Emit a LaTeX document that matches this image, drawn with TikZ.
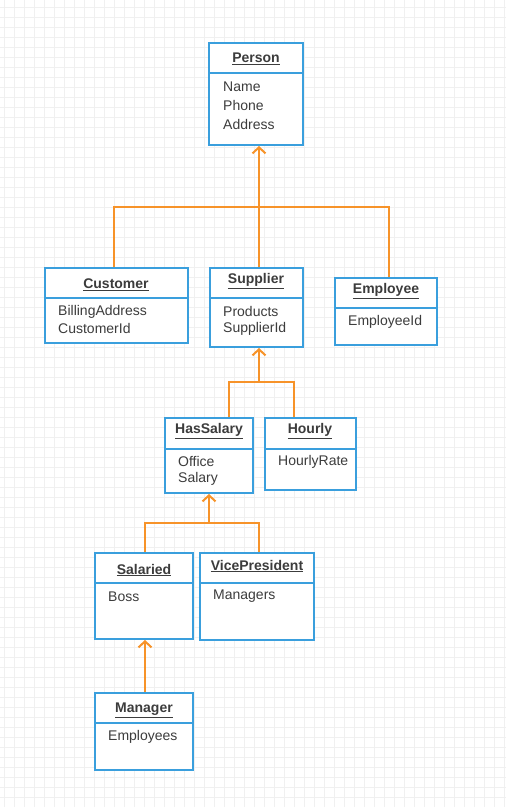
\documentclass[tikz,border=0pt]{standalone}
\usepackage{fontspec}
\setmainfont{Liberation Sans}
\usetikzlibrary{arrows.meta,fit}
\definecolor{boxblue}{HTML}{3A9FDD}
\definecolor{connorange}{HTML}{F79329}
\definecolor{txtgray}{HTML}{3C3C3C}
\definecolor{gridgray}{HTML}{F0F0F0}
\tikzset{
  umlbox/.style={draw=boxblue, line width=2pt, inner sep=0pt, fill=white},
  divider/.style={draw=boxblue, line width=2pt},
  ttl/.style={text=txtgray, font=\fontsize{14}{16}\selectfont\bfseries, inner sep=0pt, yshift=-2pt},
  attr/.style={text=txtgray, font=\fontsize{14}{16}\selectfont, inner sep=0pt, anchor=west, yshift=-0.5pt},
  conn/.style={draw=connorange, line width=2pt},
  inh/.style={conn, -{Straight Barb[length=6pt,width=13pt,line width=2pt]}},
  gridline/.style={draw=gridgray, line width=0.7pt}
}
\begin{document}
\begin{tikzpicture}[x=1pt,y=-1pt]
\useasboundingbox (0,0) rectangle (506,807);
\fill[white] (0,0) rectangle (506,807);
\foreach \gx in {4,14,...,504} \draw[gridline] (\gx,0) -- (\gx,807);
\foreach \gy in {7,17,...,807} \draw[gridline] (0,\gy) -- (506,\gy);

% Boxes
\node[umlbox, fit={(209,43) (303,145)}] (person) {};
\draw[divider] (person.west |- 0,73) -- (person.east |- 0,73);
\node[ttl] (person-t) at (256,57) {\underline{Person}};
\node[attr] (person-a1) at (223,86) {Name};
\node[attr] (person-a2) at (223,105) {Phone};
\node[attr] (person-a3) at (223,124) {Address};

\node[umlbox, fit={(45,268) (188,343)}] (customer) {};
\draw[divider] (customer.west |- 0,298) -- (customer.east |- 0,298);
\node[ttl] (customer-t) at (116,283) {\underline{Customer}};
\node[attr] (customer-a1) at (58,311) {BillingAddress};
\node[attr] (customer-a2) at (58,328) {CustomerId};

\node[umlbox, fit={(210,268) (303,347)}] (supplier) {};
\draw[divider] (supplier.west |- 0,298) -- (supplier.east |- 0,298);
\node[ttl] (supplier-t) at (256,279) {\underline{Supplier}};
\node[attr] (supplier-a1) at (223,311) {Products};
\node[attr] (supplier-a2) at (223,328) {SupplierId};

\node[umlbox, fit={(335,278) (437,345)}] (employee) {};
\draw[divider] (employee.west |- 0,308) -- (employee.east |- 0,308);
\node[ttl] (employee-t) at (386,289) {\underline{Employee}};
\node[attr] (employee-a1) at (348,321) {EmployeeId};

\node[umlbox, fit={(165,418) (253,493)}] (hassalary) {};
\draw[divider] (hassalary.west |- 0,449) -- (hassalary.east |- 0,449);
\node[ttl] (hassalary-t) at (209,429) {\underline{HasSalary}};
\node[attr] (hassalary-a1) at (178,461) {Office};
\node[attr] (hassalary-a2) at (178,478) {Salary};

\node[umlbox, fit={(265,418) (356,490)}] (hourly) {};
\draw[divider] (hourly.west |- 0,449) -- (hourly.east |- 0,449);
\node[ttl] (hourly-t) at (310,429) {\underline{Hourly}};
\node[attr] (hourly-a1) at (278,461) {HourlyRate};

\node[umlbox, fit={(95,553) (193,639)}] (salaried) {};
\draw[divider] (salaried.west |- 0,583) -- (salaried.east |- 0,583);
\node[ttl] (salaried-t) at (144,568) {\underline{Salaried}};
\node[attr] (salaried-a1) at (108,596) {Boss};

\node[umlbox, fit={(200,553) (314,640)}] (vp) {};
\draw[divider] (vp.west |- 0,583) -- (vp.east |- 0,583);
\node[ttl] (vp-t) at (257,564) {\underline{VicePresident}};
\node[attr] (vp-a1) at (213,596) {Managers};

\node[umlbox, fit={(95,693) (193,770)}] (manager) {};
\draw[divider] (manager.west |- 0,723) -- (manager.east |- 0,723);
\node[ttl] (manager-t) at (144,708) {\underline{Manager}};
\node[attr] (manager-a1) at (108,736) {Employees};

% Connectors
\coordinate (busL) at (114,207);
\coordinate (busR) at (389,207);
\draw[conn] (customer.north -| busL) -- (busL) -- (busR) -- (employee.north -| busR);
\draw[inh] (supplier.north -| 259,0) -- (person.south -| 259,0);

\coordinate (bus2) at (259,382);
\draw[conn] (hassalary.north -| 229,0) |- (bus2) -| (hourly.north -| 294,0);
\draw[inh] (bus2) -- (supplier.south -| bus2);

\coordinate (bus3) at (209,523);
\draw[conn] (salaried.north -| 145,0) |- (bus3) -| (vp.north -| 259,0);
\draw[inh] (bus3) -- (hassalary.south -| bus3);

\draw[inh] (manager.north -| 145,0) -- (salaried.south -| 145,0);
\end{tikzpicture}
\end{document}
